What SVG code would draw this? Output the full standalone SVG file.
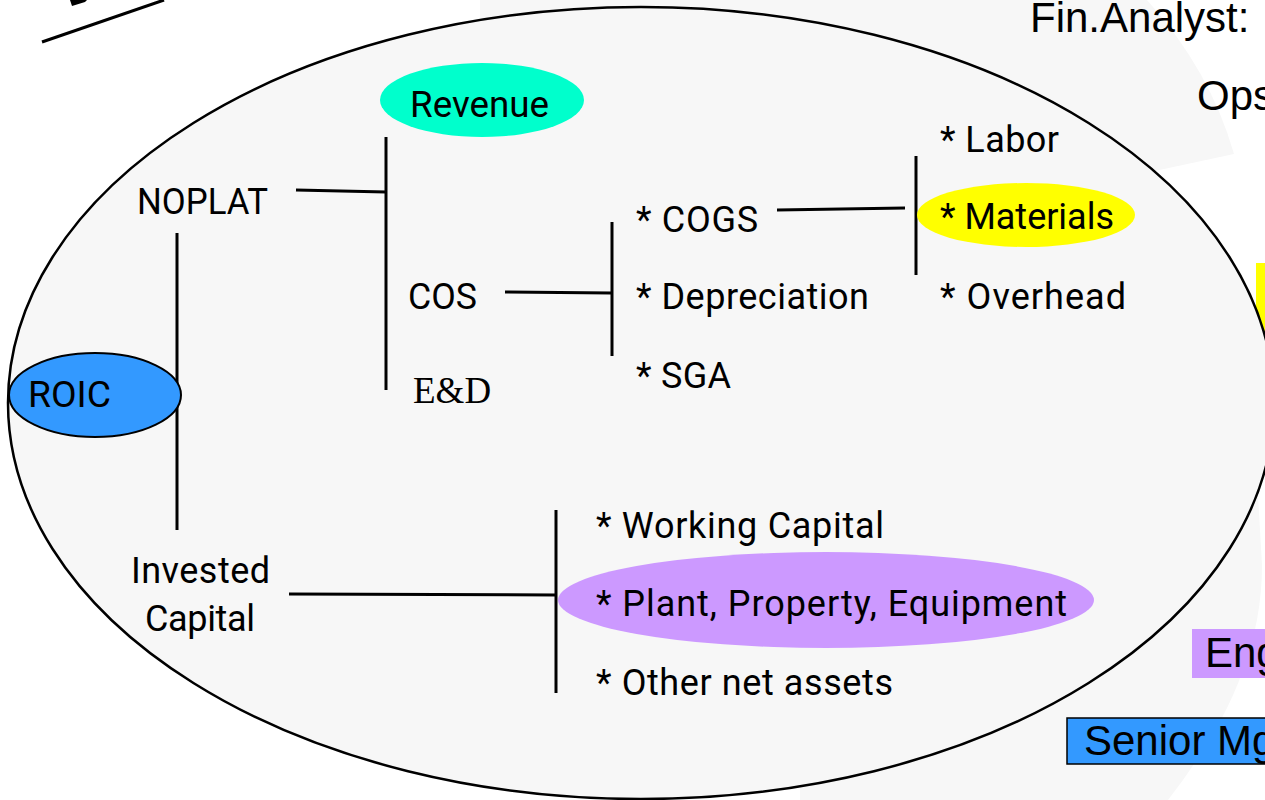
<svg xmlns="http://www.w3.org/2000/svg" width="1265" height="800" viewBox="0 0 1265 800">
<style>
.t{font-family:Roboto,"Liberation Sans",sans-serif;font-size:36px;fill:#000}
.a{font-family:"Liberation Sans",Arial,sans-serif;font-size:42px;fill:#000}
.ln{stroke:#000;stroke-width:3;fill:none}
</style>
<rect width="1265" height="800" fill="#fff"/>
<g id="background">
<path d="M480,0 L1147,0 Q1210,70 1234,154 L1150,172 L480,172 Z" fill="#f7f7f7"/>
<path d="M800,800 L1168,800 C1222,730 1262,655 1262,565 L1258,495 L800,495 Z" fill="#f7f7f7"/>
<rect x="1256" y="263" width="20" height="110" fill="#ffff00"/>
<line x1="42" y1="42" x2="164" y2="0" stroke="#000" stroke-width="3"/>
<polygon points="70,0 87,0 85,2 72,6" fill="#000"/>
</g>
<g id="frame">
<ellipse cx="641" cy="403" rx="633" ry="396" fill="#f7f7f7" stroke="#000" stroke-width="2.5"/>
</g>
<g id="connectors">
<line class="ln" x1="296" y1="190" x2="386" y2="192"/>
<line class="ln" x1="386" y1="137" x2="386" y2="390"/>
<line class="ln" x1="505" y1="292" x2="611" y2="293"/>
<line class="ln" x1="612" y1="222" x2="612" y2="356"/>
<line class="ln" x1="777" y1="210" x2="905" y2="208"/>
<line class="ln" x1="916" y1="156" x2="916" y2="275"/>
<line class="ln" x1="177" y1="233" x2="177" y2="530"/>
<line class="ln" x1="289" y1="594" x2="556" y2="595"/>
<line class="ln" x1="556" y1="510" x2="556" y2="693"/>
</g>
<g id="roic">
<ellipse cx="95" cy="395" rx="86" ry="42" fill="#3399ff" stroke="#000" stroke-width="2"/>
<text class="t" x="28" y="407" textLength="83" lengthAdjust="spacingAndGlyphs">ROIC</text>
</g>
<g id="revenue">
<ellipse cx="482" cy="100" rx="102" ry="37" fill="#00ffcc"/>
<text class="t" x="410" y="117" textLength="139" lengthAdjust="spacingAndGlyphs">Revenue</text>
</g>
<g id="noplat"><text class="t" x="137" y="214" textLength="131" lengthAdjust="spacingAndGlyphs">NOPLAT</text></g>
<g id="cos"><text class="t" x="408" y="309" textLength="69" lengthAdjust="spacingAndGlyphs">COS</text></g>
<g id="ed"><text x="413" y="403" font-family="'Liberation Serif','Times New Roman',serif" font-size="37">E&amp;D</text></g>
<g id="cogs"><text class="t" x="636" y="232" textLength="122" lengthAdjust="spacing">* COGS</text></g>
<g id="depreciation"><text class="t" x="636" y="309" textLength="233" lengthAdjust="spacing">* Depreciation</text></g>
<g id="sga"><text class="t" x="636" y="388" textLength="95" lengthAdjust="spacing">* SGA</text></g>
<g id="labor"><text class="t" x="940" y="152" textLength="119" lengthAdjust="spacing">* Labor</text></g>
<g id="materials">
<ellipse cx="1026" cy="215" rx="109" ry="32" fill="#ffff00"/>
<text class="t" x="940" y="229" textLength="174" lengthAdjust="spacing">* Materials</text>
</g>
<g id="overhead"><text class="t" x="940" y="309" textLength="186" lengthAdjust="spacing">* Overhead</text></g>
<g id="invested">
<text class="t" x="131" y="583" textLength="139" lengthAdjust="spacing">Invested</text>
<text class="t" x="145" y="631" textLength="110" lengthAdjust="spacing">Capital</text>
</g>
<g id="working"><text class="t" x="596" y="538" textLength="288" lengthAdjust="spacing">* Working Capital</text></g>
<g id="ppe">
<ellipse cx="826" cy="600" rx="268" ry="48" fill="#cc99ff"/>
<text class="t" x="596" y="616" textLength="471" lengthAdjust="spacing">* Plant, Property, Equipment</text>
</g>
<g id="other"><text class="t" x="596" y="695" textLength="297" lengthAdjust="spacing">* Other net assets</text></g>
<g id="finanalyst"><text class="a" x="1030" y="32">Fin.Analyst:</text></g>
<g id="ops"><text class="a" x="1197" y="110">Ops</text></g>
<g id="eng">
<rect x="1192" y="629" width="80" height="49" fill="#cc99ff"/>
<text class="a" x="1205" y="667">Eng</text>
</g>
<g id="senior">
<rect x="1067" y="718" width="220" height="46" fill="#3399ff" stroke="#000" stroke-width="1.5"/>
<text class="a" x="1084" y="755">Senior Mg</text>
</g>
</svg>
